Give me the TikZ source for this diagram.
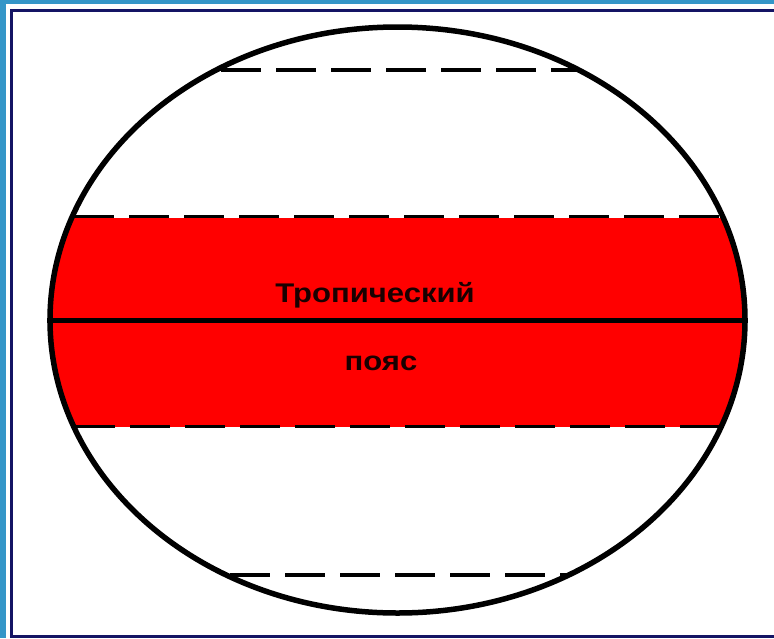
\documentclass[tikz,border=0pt]{standalone}
\usepackage{fontspec}
\setmainfont{Liberation Sans}
\definecolor{framebg}{RGB}{52,150,200}
\definecolor{navy}{RGB}{20,20,100}
\definecolor{bandred}{RGB}{255,0,0}
\tikzset{
  outline/.style={draw=black, line width=5.5pt},
  dashline/.style={draw=black, line width=3.5pt, dash pattern=on 40pt off 15pt},
  label/.style={font=\bfseries\fontsize{27}{31}\selectfont, text=black!90!red, xscale=1.15, inner sep=0pt, anchor=base}
}
\begin{document}
\begin{tikzpicture}[x=1pt,y=-1pt]
\useasboundingbox (0,0) rectangle (774,638);
\clip (0,0) rectangle (774,638);
% frame
\fill[framebg] (0,0) rectangle (774,638);
\fill[white] (6,4) rectangle (790,650);
\draw[navy, line width=3pt] (790,10.5) -- (11.5,10.5) -- (11.5,636.5) -- (790,636.5);
% red band
\begin{scope}
  \clip (397.5,320) ellipse [x radius=347.5, y radius=293];
  \fill[bandred] (40,217.5) rectangle (760,427);
\end{scope}
% dashed parallels
\coordinate (t1) at (221,70);   \coordinate (t2) at (576,70);
\coordinate (a1) at (74,216.5); \coordinate (a2) at (721,216.5);
\coordinate (b1) at (75,426.5); \coordinate (b2) at (720,426.5);
\coordinate (s1) at (230,575);  \coordinate (s2) at (567,575);
\draw[dashline] (t1) -- (t2);
\draw[dashline] (a1) -- (a2);
\draw[dashline] (b1) -- (b2);
\draw[dashline] (s1) -- (s2);
% equator
\coordinate (e1) at (47,320.5); \coordinate (e2) at (748,320.5);
\draw[black, line width=4.5pt] (e1) -- (e2);
% outline
\draw[outline] (397.5,320) ellipse [x radius=347.5, y radius=293];
% labels
\node[label] (trop) at (375,302) {Тропический};
\node[label] (poyas) at (381,370) {пояс};
\end{tikzpicture}
\end{document}
